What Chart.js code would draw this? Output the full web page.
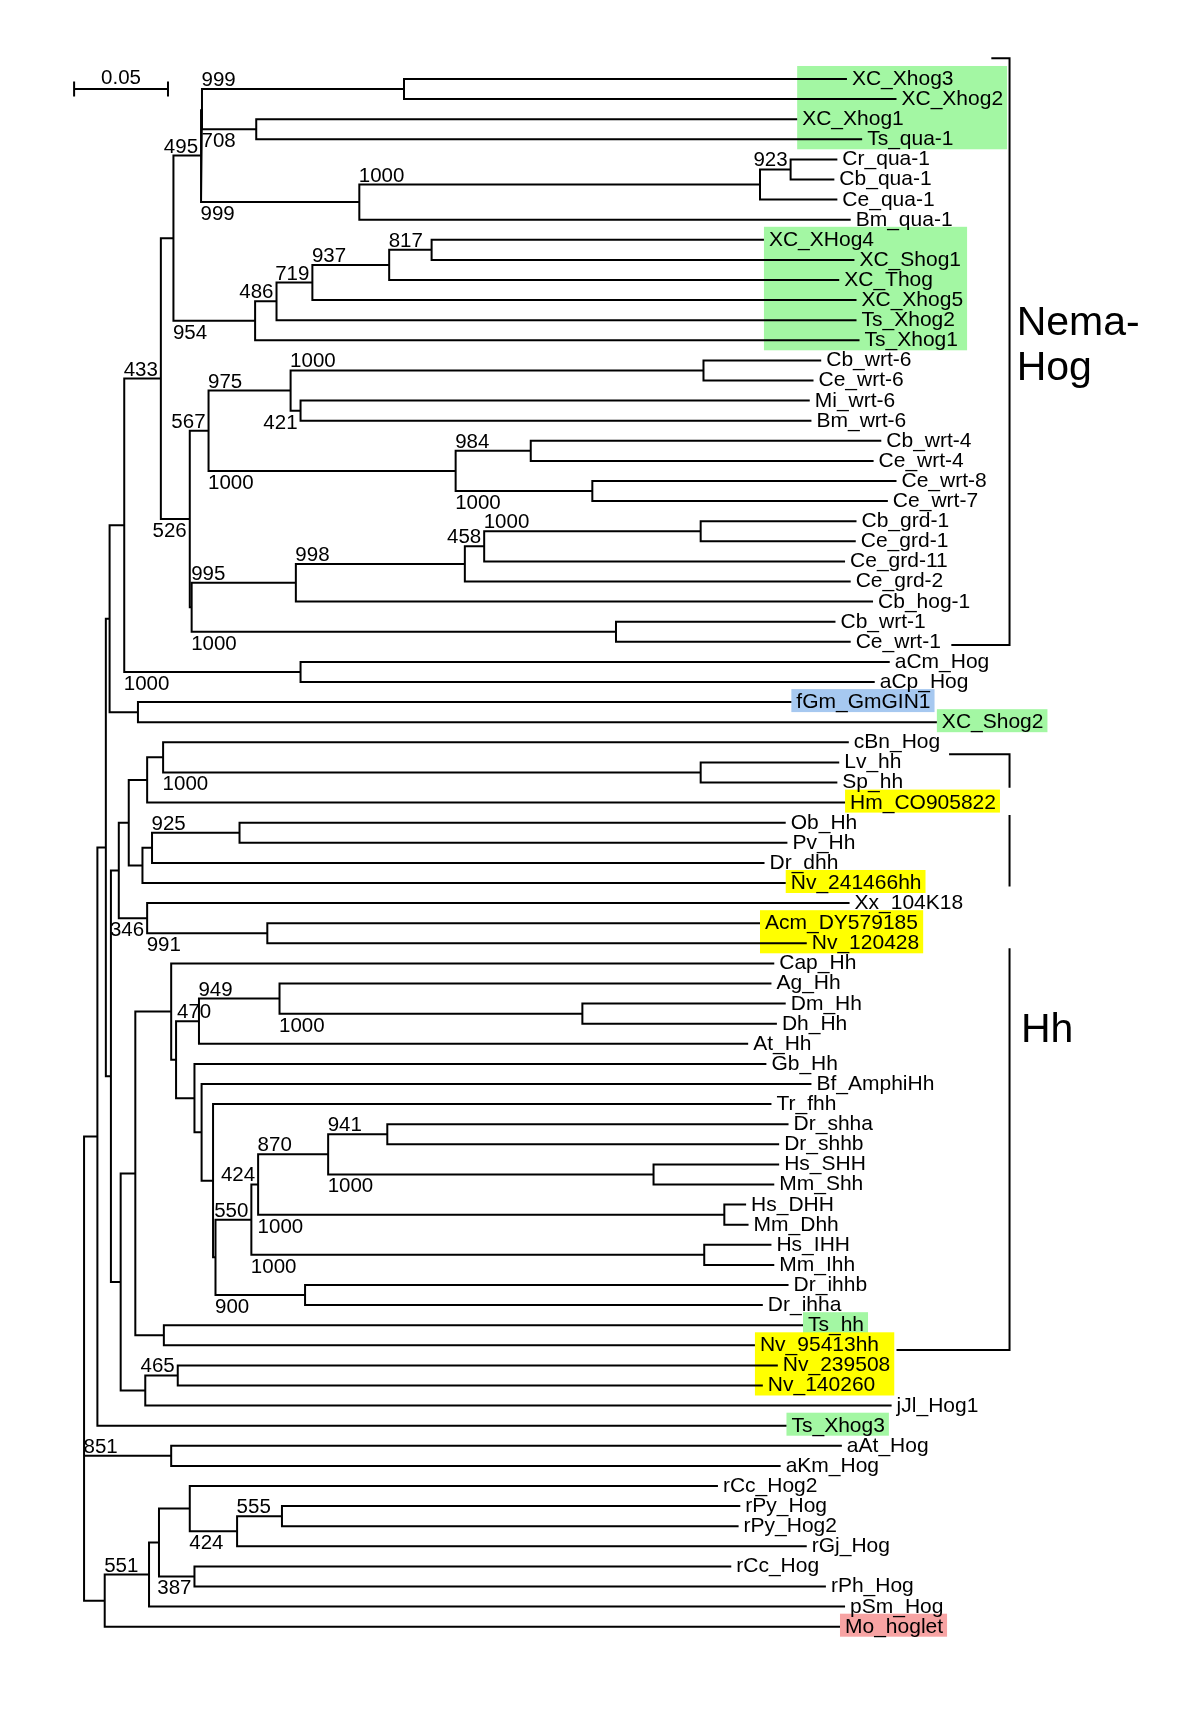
<!DOCTYPE html>
<html>
<head>
<meta charset="utf-8">
<title>Hog / Hh tree</title>
<script src="https://cdn.jsdelivr.net/npm/chart.js@4.4.1/dist/chart.umd.min.js"></script>
<style>
  html, body { margin: 0; padding: 0; background: #fff; }
  canvas { display: block; }
</style>
</head>
<body>
<canvas id="tree" width="1200" height="1716"></canvas>
<script>
// leaves, top to bottom
const taxa = [
  'XC_Xhog3', 'XC_Xhog2', 'XC_Xhog1', 'Ts_qua-1', 'Cr_qua-1', 'Cb_qua-1', 'Ce_qua-1', 'Bm_qua-1',
  'XC_XHog4', 'XC_Shog1', 'XC_Thog', 'XC_Xhog5', 'Ts_Xhog2', 'Ts_Xhog1',
  'Cb_wrt-6', 'Ce_wrt-6', 'Mi_wrt-6', 'Bm_wrt-6', 'Cb_wrt-4', 'Ce_wrt-4', 'Ce_wrt-8', 'Ce_wrt-7',
  'Cb_grd-1', 'Ce_grd-1', 'Ce_grd-11', 'Ce_grd-2', 'Cb_hog-1', 'Cb_wrt-1', 'Ce_wrt-1',
  'aCm_Hog', 'aCp_Hog', 'fGm_GmGIN1', 'XC_Shog2',
  'cBn_Hog', 'Lv_hh', 'Sp_hh', 'Hm_CO905822', 'Ob_Hh', 'Pv_Hh', 'Dr_dhh', 'Nv_241466hh',
  'Xx_104K18', 'Acm_DY579185', 'Nv_120428',
  'Cap_Hh', 'Ag_Hh', 'Dm_Hh', 'Dh_Hh', 'At_Hh', 'Gb_Hh', 'Bf_AmphiHh', 'Tr_fhh',
  'Dr_shha', 'Dr_shhb', 'Hs_SHH', 'Mm_Shh', 'Hs_DHH', 'Mm_Dhh', 'Hs_IHH', 'Mm_Ihh', 'Dr_ihhb', 'Dr_ihha',
  'Ts_hh', 'Nv_95413hh', 'Nv_239508', 'Nv_140260', 'jJl_Hog1', 'Ts_Xhog3',
  'aAt_Hog', 'aKm_Hog', 'rCc_Hog2', 'rPy_Hog', 'rPy_Hog2', 'rGj_Hog', 'rCc_Hog', 'rPh_Hog', 'pSm_Hog', 'Mo_hoglet'
];

// distance of each leaf from the root (substitutions / site)
const tipDepth = [
  0.4063, 0.4327, 0.3798, 0.4144, 0.4012, 0.3996, 0.4012, 0.4083,
  0.3621, 0.4103, 0.4022, 0.4114, 0.4114, 0.4130,
  0.3926, 0.3885, 0.3865, 0.3874, 0.4246, 0.4205, 0.4327, 0.4281,
  0.4114, 0.4110, 0.4053, 0.4083, 0.4202, 0.4002, 0.4083,
  0.4291, 0.4211, 0.3767, 0.4542,
  0.4073, 0.4022, 0.4012, 0.4053, 0.3737, 0.3746, 0.3624, 0.3737,
  0.4077, 0.3600, 0.3849,
  0.3676, 0.3661, 0.3737, 0.3690, 0.3537, 0.3634, 0.3874, 0.3661,
  0.3752, 0.3702, 0.3702, 0.3676, 0.3526, 0.3539, 0.3661, 0.3676, 0.3752, 0.3615,
  0.3829, 0.3573, 0.3695, 0.3615, 0.4301, 0.3741,
  0.4036, 0.3710, 0.3376, 0.3495, 0.3486, 0.3849, 0.3447, 0.3951, 0.4053, 0.4026
];

// internal nodes: [id, depth, bootstrap (of 1000), children top to bottom]
// a number child is a leaf index, a string child is another node
const clades = [
  ['root', 0, null, 'R1', 'BA', 'BB'],
  ['R1', 0.0071, null, 'W', 67],
  ['W', 0.0116, null, 'U', 'X'],
  ['U', 0.0136, null, 'S', 'V'],
  ['S', 0.0214, null, 'F', 'T'],
  ['F', 0.0409, 433, 'B', 'G'],
  ['B', 0.0476, null, 'A1', 'C'],
  ['A1', 0.0623, 495, 'A2', 'QUA'],
  ['A2', 0.0628, null, 'X32', 'N708'],
  ['X32', 0.1704, 999, 0, 1],
  ['N708', 0.0917, 708, 2, 3],
  ['QUA', 0.1466, 999, 'QN1', 7],
  ['QN1', 0.3600, 1000, 'N923', 6],
  ['N923', 0.3763, 923, 4, 5],
  ['C', 0.0911, 954, 'E4', 13],
  ['E4', 0.1025, 486, 'E3', 12],
  ['E3', 0.1216, 719, 'E2', 11],
  ['E2', 0.1625, 937, 'E1', 10],
  ['E1', 0.1851, 817, 8, 9],
  ['G', 0.0563, 526, 'H', 'G2'],
  ['H', 0.0663, 567, 'K', 'L'],
  ['K', 0.1100, 975, 'W6', 'K2'],
  ['W6', 0.3299, 1000, 14, 15],
  ['K2', 0.1153, 421, 16, 17],
  ['L', 0.1979, 1000, 'M', 'N'],
  ['M', 0.2379, 984, 18, 19],
  ['N', 0.2707, 1000, 20, 21],
  ['G2', 0.0573, null, 'I', 'J'],
  ['I', 0.1128, 995, 'O', 26],
  ['O', 0.2028, 998, 'P', 25],
  ['P', 0.2131, 458, 'Q', 24],
  ['Q', 0.3284, 1000, 22, 23],
  ['J', 0.2833, 1000, 27, 28],
  ['T', 0.1153, 1000, 29, 30],
  ['V', 0.0287, null, 31, 32],
  ['X', 0.0143, null, 'Z', 'Y'],
  ['Z', 0.0185, null, 'AA', 'AB'],
  ['AA', 0.0238, null, 'AC', 'AD'],
  ['AC', 0.0336, null, 'AE', 36],
  ['AE', 0.0421, null, 33, 'LS'],
  ['LS', 0.3284, 1000, 34, 35],
  ['AD', 0.0311, null, 'AF', 40],
  ['AF', 0.0362, null, 'AG', 39],
  ['AG', 0.0828, 925, 37, 38],
  ['AB', 0.0336, 346, 41, 'AH'],
  ['AH', 0.0976, 991, 42, 43],
  ['Y', 0.0195, null, 'AI', 'AJ'],
  ['AI', 0.0273, null, 'AM', 'AL'],
  ['AM', 0.0464, null, 44, 'AN'],
  ['AN', 0.0490, null, 'AO', 'AP'],
  ['AO', 0.0612, 470, 'AQ', 48],
  ['AQ', 0.1041, 949, 45, 'AR'],
  ['AR', 0.2654, 1000, 46, 47],
  ['AP', 0.0588, null, 49, 'AS'],
  ['AS', 0.0626, null, 50, 'AT'],
  ['AT', 0.0687, null, 51, 'AV'],
  ['AV', 0.0700, null, 'AU', 'AW'],
  ['AU', 0.0891, 550, 'AX', 'IHH'],
  ['AX', 0.0927, 424, 'AY', 'DHH'],
  ['AY', 0.1300, 870, 'AZ', 'SHH'],
  ['AZ', 0.1615, 941, 52, 53],
  ['SHH', 0.3033, 1000, 54, 55],
  ['DHH', 0.3410, 1000, 56, 57],
  ['IHH', 0.3303, 1000, 58, 59],
  ['AW', 0.1177, 900, 60, 61],
  ['AL', 0.0425, null, 62, 63],
  ['AJ', 0.0326, null, 'AK', 66],
  ['AK', 0.0499, 465, 64, 65],
  ['BA', 0.0464, 851, 68, 69],
  ['BB', 0.0110, null, 'BC', 77],
  ['BC', 0.0346, 551, 'BD', 76],
  ['BD', 0.0399, null, 'BE', 'BF'],
  ['BE', 0.0563, null, 70, 'BG'],
  ['BG', 0.0815, 424, 'BH', 73],
  ['BH', 0.1054, 555, 71, 72],
  ['BF', 0.0588, 387, 74, 75]
];

// shaded leaf labels: [first leaf, last leaf, colour]
const highlights = [
  [0, 3, '#a3f7a3'],
  [8, 13, '#a3f7a3'],
  [31, 31, '#a6c8f0'],
  [32, 32, '#a3f7a3'],
  [36, 36, '#ffff00'],
  [40, 40, '#ffff00'],
  [42, 43, '#ffff00'],
  [62, 62, '#a3f7a3'],
  [63, 65, '#ffff00'],
  [67, 67, '#a3f7a3'],
  [77, 77, '#f7a3a3']
];

const scaleBarLength = 0.05;

const FONT = '"Liberation Sans", Arial, Helvetica, sans-serif';
const LEAF_SIZE = 21;
const SUPPORT_SIZE = 20.5;

const nodes = {};
for (const [id, depth, support, ...kids] of clades) {
  nodes[id] = { id, depth, support, kids };
}

const depthOf = (ref) => (typeof ref === 'number' ? tipDepth[ref] : nodes[ref].depth);
const rowOf = (ref) => {
  if (typeof ref === 'number') return ref;
  const node = nodes[ref];
  if (node.row === undefined) {
    node.row = (rowOf(node.kids[0]) + rowOf(node.kids[node.kids.length - 1])) / 2;
  }
  return node.row;
};

const lineStyle = {
  showLine: true,
  borderColor: '#000',
  borderWidth: 2,
  pointRadius: 0,
  borderJoinStyle: 'miter',
  borderCapStyle: 'butt'
};

const datasets = [];
for (const node of Object.values(nodes)) {
  const first = node.kids[0];
  const last = node.kids[node.kids.length - 1];
  datasets.push({
    ...lineStyle,
    data: [
      { x: depthOf(first), y: rowOf(first) },
      { x: node.depth, y: rowOf(first) },
      { x: node.depth, y: rowOf(last) },
      { x: depthOf(last), y: rowOf(last) }
    ]
  });
  for (const mid of node.kids.slice(1, -1)) {
    datasets.push({
      ...lineStyle,
      data: [
        { x: node.depth, y: rowOf(mid) },
        { x: depthOf(mid), y: rowOf(mid) }
      ]
    });
  }
}

// side brackets with group names
const groupBrackets = [
  {
    names: ['Nema-', 'Hog'], nameRows: [12.74, 14.98], nameAt: 0.4967,
    spans: [[-1.03, 28.16]], ticks: [[-1.03, 0.4832], [28.16, 0.4619]]
  },
  {
    names: ['Hh'], nameRows: [47.93], nameAt: 0.4990,
    spans: [[33.6, 35.26], [36.62, 40.18], [43.25, 63.23]], ticks: [[33.6, 0.4607], [63.23, 0.4327]]
  }
];
const bracketAt = 0.4929;

const drawText = (ctx, text, px, py, size) => {
  ctx.font = `${size}px ${FONT}`;
  ctx.fillText(text, px, py);
};

const textWidth = (ctx, text, size) => {
  ctx.font = `${size}px ${FONT}`;
  return ctx.measureText(text).width;
};

const treeText = {
  id: 'treeText',
  beforeDatasetsDraw(chart) {
    const { ctx, scales: { x, y } } = chart;
    ctx.save();
    for (const [from, to, color] of highlights) {
      let left = Infinity;
      let right = -Infinity;
      for (let i = from; i <= to; i++) {
        const tip = x.getPixelForValue(tipDepth[i]);
        left = Math.min(left, tip);
        right = Math.max(right, tip + 5 + textWidth(ctx, taxa[i], LEAF_SIZE) + 4);
      }
      const top = y.getPixelForValue(from) - 13;
      const bottom = y.getPixelForValue(to) + 10;
      ctx.fillStyle = color;
      ctx.fillRect(left, top, right - left, bottom - top);
    }
    ctx.restore();
  },
  afterDatasetsDraw(chart) {
    const { ctx, scales: { x, y } } = chart;
    ctx.save();
    ctx.fillStyle = '#000';
    ctx.strokeStyle = '#000';
    ctx.textBaseline = 'alphabetic';

    taxa.forEach((name, i) => {
      drawText(ctx, name, x.getPixelForValue(tipDepth[i]) + 5, y.getPixelForValue(i) + 6, LEAF_SIZE);
    });

    // bootstrap values sit at the start of the branch they support
    const all = Object.values(nodes);
    const verticals = all.map((n) => ({
      x: x.getPixelForValue(n.depth),
      y0: y.getPixelForValue(rowOf(n.kids[0])),
      y1: y.getPixelForValue(rowOf(n.kids[n.kids.length - 1]))
    }));
    for (const parent of all) {
      parent.kids.forEach((kid, k) => {
        if (typeof kid === 'number') return;
        const node = nodes[kid];
        if (node.support == null) return;
        const text = String(node.support);
        const w = textWidth(ctx, text, SUPPORT_SIZE);
        const px = x.getPixelForValue(parent.depth);
        const cx = x.getPixelForValue(node.depth);
        const cy = y.getPixelForValue(rowOf(kid));
        const base = k === parent.kids.length - 1 ? cy + 18 : cy - 3;
        let start = px - 0.5;
        if (cx - w - 3 < px) {
          start = cx - w - 3;
          const blocked = verticals.some((v) =>
            v.x > start + 2 && v.x < start + w - 2 && v.y1 > base - 15 && v.y0 < base);
          if (blocked) start = px + 1;
        }
        drawText(ctx, text, start, base, SUPPORT_SIZE);
      });
    }

    // scale bar
    ctx.lineWidth = 2;
    const sbY = y.getPixelForValue(0.5);
    const sb0 = x.getPixelForValue(-0.0053);
    const sb1 = x.getPixelForValue(-0.0053 + scaleBarLength);
    ctx.beginPath();
    ctx.moveTo(sb0, sbY);
    ctx.lineTo(sb1, sbY);
    ctx.moveTo(sb0, sbY - 7.5);
    ctx.lineTo(sb0, sbY + 7.5);
    ctx.moveTo(sb1, sbY - 7.5);
    ctx.lineTo(sb1, sbY + 7.5);
    ctx.stroke();
    const label = String(scaleBarLength);
    drawText(ctx, label, (sb0 + sb1) / 2 - textWidth(ctx, label, SUPPORT_SIZE) / 2, sbY - 5, SUPPORT_SIZE);

    // group brackets
    const bx = x.getPixelForValue(bracketAt);
    for (const g of groupBrackets) {
      ctx.beginPath();
      for (const [a, b] of g.spans) {
        ctx.moveTo(bx, y.getPixelForValue(a));
        ctx.lineTo(bx, y.getPixelForValue(b));
      }
      for (const [row, from] of g.ticks) {
        ctx.moveTo(x.getPixelForValue(from), y.getPixelForValue(row));
        ctx.lineTo(bx + 1, y.getPixelForValue(row));
      }
      ctx.stroke();
      g.names.forEach((name, i) => {
        drawText(ctx, name, x.getPixelForValue(g.nameAt), y.getPixelForValue(g.nameRows[i]), 41);
      });
    }
    ctx.restore();
  }
};

new Chart(document.getElementById('tree'), {
  type: 'scatter',
  data: { datasets },
  options: {
    responsive: false,
    animation: false,
    events: [],
    layout: { padding: 0, autoPadding: false },
    plugins: {
      legend: { display: false },
      tooltip: { enabled: false }
    },
    scales: {
      x: { type: 'linear', display: false, min: -0.04477, max: 0.59434 },
      y: { type: 'linear', display: false, reverse: true, min: -3.93, max: 81.443 }
    }
  },
  plugins: [treeText]
});
</script>
</body>
</html>
